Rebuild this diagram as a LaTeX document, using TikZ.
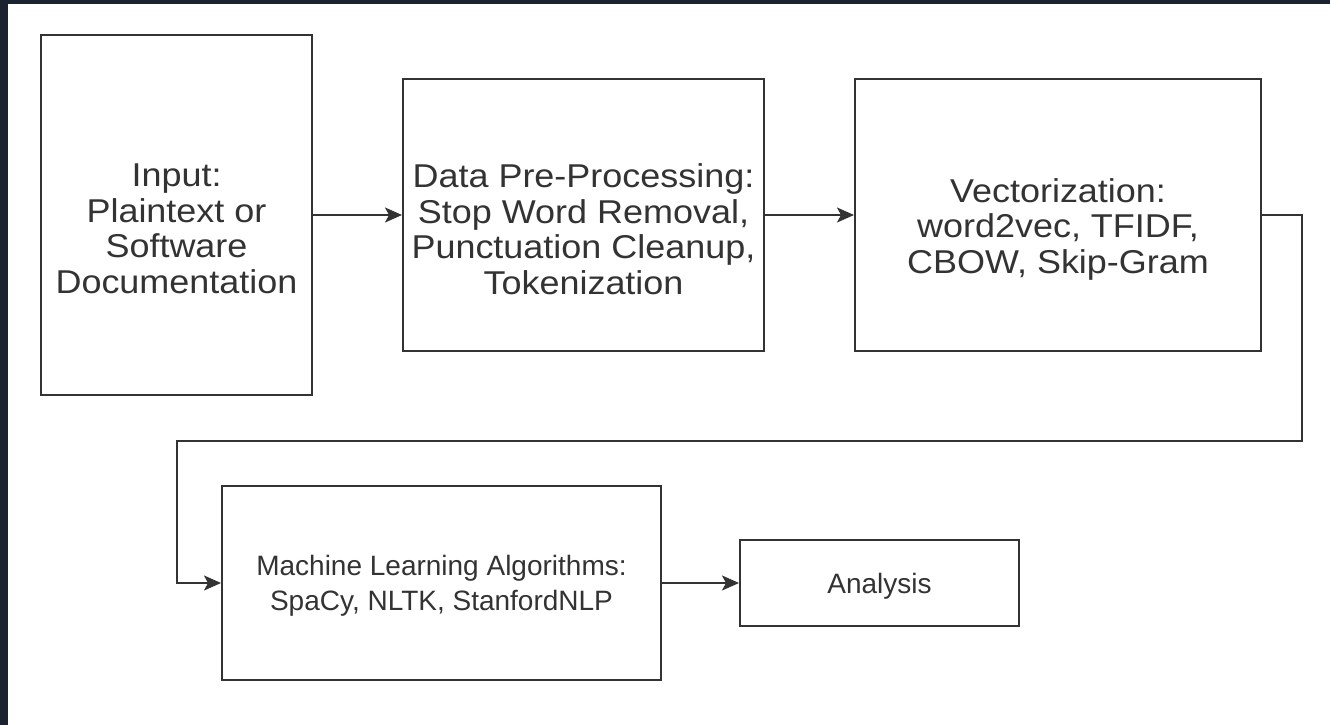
\documentclass[tikz,border=0pt]{standalone}
\usepackage{fontspec}
\setmainfont{Liberation Sans}
\newfontfamily\widefont{Liberation Sans}[FakeStretch=1.09]
\usetikzlibrary{arrows.meta, positioning}

\definecolor{edge}{HTML}{333333}
\definecolor{frame}{HTML}{1B2230}

\begin{document}
\begin{tikzpicture}[x=1pt, y=-1pt,
    stage/.style={rectangle, draw=edge, line width=2pt, inner sep=0pt},
    words/.style={align=center, text=edge, inner sep=0pt},
    toptext/.style={label={[words, yshift=-14pt,
      font=\widefont\fontsize{33}{35.5}\selectfont]center:{#1}}},
    lowtext/.style={label={[words, yshift=-3pt,
      font=\fontsize{28}{35}\selectfont]center:{#1}}},
    link/.style={draw=edge, line width=2pt,
      -{Stealth[length=17pt, width=15pt, inset=4pt]}}]
    \useasboundingbox (0,0) rectangle (1330,725);
    \fill[white] (0,0) rectangle (1330,725);
    \fill[frame] (0,0) rectangle (1330,4);
    \fill[frame] (0,0) rectangle (8,725);

    % top row
    \node[stage, minimum width=271pt, minimum height=360pt,
        toptext={Input:\\Plaintext or\\Software\\Documentation}] (input)
        at (176.5,215) {};

    \node[stage, minimum width=361pt, minimum height=272pt,
        toptext={Data Pre-Processing:\\Stop Word Removal,\\Punctuation Cleanup,\\Tokenization}] (prep)
        [right=89pt of input] {};

    \node[stage, minimum width=406pt, minimum height=272pt,
        toptext={Vectorization:\\word2vec, TFIDF,\\CBOW, Skip-Gram}] (vec)
        [right=89pt of prep] {};

    % bottom row
    \node[stage, minimum width=439pt, minimum height=194pt,
        lowtext={Machine Learning Algorithms:\\SpaCy, NLTK, StanfordNLP}] (ml)
        at (441.5,583) {};

    \node[stage, minimum width=279pt, minimum height=86pt,
        lowtext={Analysis}] (res)
        [right=77pt of ml] {};

    \coordinate (turn) at (1302,441);
    \coordinate (back) at (177,441);

    \draw[link] (input) -- (prep);
    \draw[link] (prep) -- (vec);
    \draw[link] (vec.east) -| (turn) -- (back) |- (ml.west);
    \draw[link] (ml) -- (res);

\end{tikzpicture}
\end{document}
